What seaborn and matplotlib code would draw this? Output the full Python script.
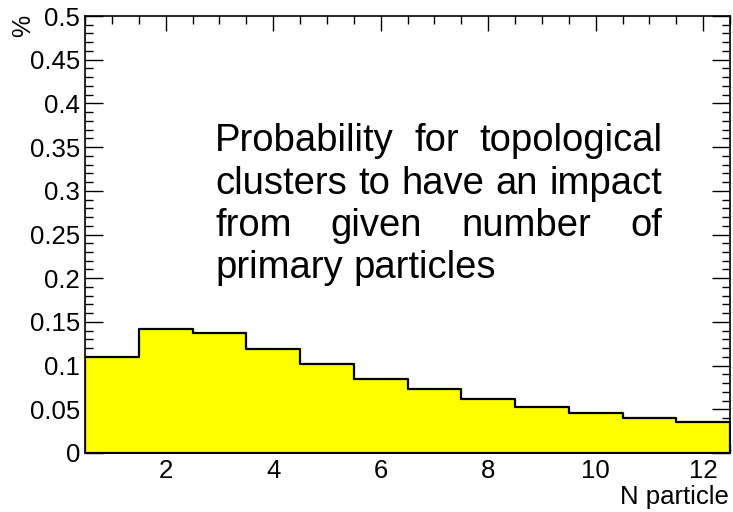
import numpy as np
import matplotlib
matplotlib.use("Agg")
import matplotlib.pyplot as plt
import seaborn as sns
from matplotlib.ticker import MultipleLocator

# data
n_particle = [1, 2, 3, 4, 5, 6, 7, 8, 9, 10, 11, 12]
probability = [0.1095, 0.1415, 0.137, 0.119, 0.102, 0.085, 0.073, 0.062, 0.0526, 0.0454, 0.040, 0.0355]
bin_edges = [0.5, 1.5, 2.5, 3.5, 4.5, 5.5, 6.5, 7.5, 8.5, 9.5, 10.5, 11.5, 12.5]
x_ticks = [2, 4, 6, 8, 10, 12]
y_ticks = [0, 0.05, 0.1, 0.15, 0.2, 0.25, 0.3, 0.35, 0.4, 0.45, 0.5]
y_tick_labels = ["0", "0.05", "0.1", "0.15", "0.2", "0.25", "0.3", "0.35", "0.4", "0.45", "0.5"]
annotation_lines = [
    ["Probability", "for", "topological"],
    ["clusters", "to", "have", "an", "impact"],
    ["from", "given", "number", "of"],
    ["primary", "particles"],
]
justify = [True, True, True, False]

sns.set_theme(style="white")
plt.rcParams["font.family"] = ["Liberation Sans", "DejaVu Sans"]
plt.rcParams["text.color"] = "black"
plt.rcParams["axes.labelcolor"] = "black"
plt.rcParams["xtick.color"] = "black"
plt.rcParams["ytick.color"] = "black"

W, H = 733, 512
fig = plt.figure(figsize=(W / 100, H / 100), dpi=100)
ax = fig.add_axes([85 / W, 1 - 453 / H, (730 - 85) / W, (453 - 16) / H])

sns.histplot(x=n_particle, weights=probability, bins=bin_edges, element="step",
             fill=True, color="#ffff00", alpha=1, edgecolor="black", linewidth=1.6, ax=ax)

ax.set_xlim(0.5, 12.5)
ax.set_ylim(0, 0.5)
ax.set_xticks(x_ticks)
ax.set_xticklabels([str(t) for t in x_ticks])
ax.xaxis.set_minor_locator(MultipleLocator(0.5))
ax.set_yticks(y_ticks)
ax.set_yticklabels(y_tick_labels)
ax.yaxis.set_minor_locator(MultipleLocator(0.01))

for s in ax.spines.values():
    s.set_visible(True)
    s.set_color("black")
    s.set_linewidth(1.2)

ax.tick_params(axis="both", which="both", direction="in", top=True, right=True,
               bottom=True, left=True, color="black", labelcolor="black", width=1.0)
ax.tick_params(axis="x", which="major", length=11, labelsize=18.5, pad=4.5)
ax.tick_params(axis="x", which="minor", length=5.5)
ax.tick_params(axis="y", which="major", length=13, labelsize=18.5, pad=3.5)
ax.tick_params(axis="y", which="minor", length=6)
ax.set_xlabel("")
ax.set_ylabel("")
ax.grid(False)
ax.set_facecolor("white")

fig.text(729 / W, 1 - 504 / H, "N particle", ha="right", va="baseline", fontsize=18.5, color="black")
fig.text(23 / W, 1 - 26 / H, "%", rotation=90, ha="center", va="center", fontsize=18, color="black")

# justified annotation text
fs = 27.5
left_px, right_px = 215, 662
baselines = [151, 193.5, 236, 278]
renderer = fig.canvas.get_renderer()
for words, base, just in zip(annotation_lines, baselines, justify):
    arts = [fig.text(0, 1 - base / H, w, ha="left", va="baseline", fontsize=fs, color="black") for w in words]
    widths = [a.get_window_extent(renderer).width for a in arts]
    if just and len(words) > 1:
        gap = (right_px - left_px - sum(widths)) / (len(words) - 1)
    else:
        sp = fig.text(0, 0, "a a", fontsize=fs)
        w2 = sp.get_window_extent(renderer).width
        sp2 = fig.text(0, 0, "aa", fontsize=fs)
        gap = w2 - sp2.get_window_extent(renderer).width
        sp.remove(); sp2.remove()
    x = left_px
    for a, w in zip(arts, widths):
        a.set_x(x / W)
        x += w + gap

fig.savefig("out.png", dpi=100)
